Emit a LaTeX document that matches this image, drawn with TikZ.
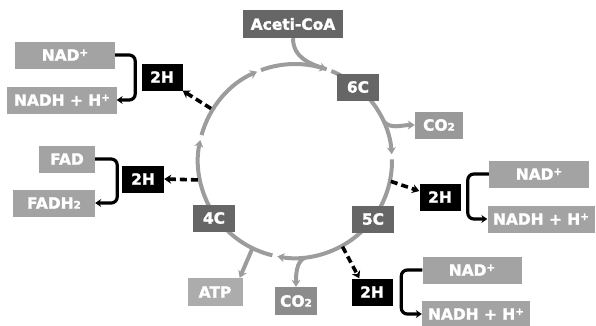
\documentclass[tikz,border=0pt]{standalone}
\usepackage{fontspec}
\setmainfont{DejaVu Sans}[BoldFeatures={FakeBold=1.6}]
\usetikzlibrary{arrows.meta,calc}
\definecolor{dk}{HTML}{666666}
\definecolor{lt}{HTML}{A3A3A3}
\definecolor{md}{HTML}{999999}
\definecolor{mdb}{HTML}{8C8C8C}
\definecolor{cyc}{HTML}{9C9C9C}
\newcommand{\sub}[1]{{\fontsize{10.5}{10}\selectfont #1}}
\newcommand{\supp}[1]{\raisebox{4.5bp}{\fontsize{10.5}{10}\selectfont #1}}
\tikzset{
  box/.style={minimum height=27bp, inner sep=0pt, text=white,
    font=\bfseries\fontsize{15.5}{18}\selectfont},
  dkbox/.style={box, fill=dk},
  ltbox/.style={box, fill=lt},
  hbox/.style={box, fill=black, minimum width=41bp},
  cycline/.style={draw=cyc, line width=4bp},
  cycarr/.style={cycline, -{Stealth[length=7bp,width=9bp]}},
  hdash/.style={draw=black, line width=3.6bp, dash pattern=on 7bp off 4bp,
    -{Stealth[length=7bp,width=9bp]}},
  brk/.style={draw=black, line width=3.2bp, rounded corners=6bp,
    -{Stealth[length=6bp,width=8bp]}}
}
\begin{document}
\begin{tikzpicture}[x=1bp,y=-1bp]
\useasboundingbox (0,0) rectangle (596,325);
\coordinate (O) at (295,161);
% cycle arcs
\draw[cycarr] ($(O)+(150:97)$) arc[start angle=150, end angle=192.5, radius=97];
\draw[cycarr] ($(O)+(195.5:97)$) arc[start angle=195.5, end angle=247, radius=97];
\draw[cycline] ($(O)+(249.5:97)$) arc[start angle=249.5, end angle=289, radius=97];
\draw[cycline] ($(O)+(292:97)$) arc[start angle=292, end angle=312, radius=97];
\draw[cycarr] ($(O)+(310:97)$) arc[start angle=310, end angle=356, radius=97];
\draw[cycarr] ($(O)+(359:97)$) arc[start angle=359, end angle=460.5, radius=97];
\draw[cycline] ($(O)+(103.5:97)$) arc[start angle=103.5, end angle=146, radius=97];
\coordinate (J) at ($(O)+(289:97)$);
\coordinate (B6) at ($(O)+(336:97)$);
\coordinate (Bco) at ($(O)+(84:97)$);
\coordinate (Batp) at ($(O)+(116:97)$);
\coordinate (Dtl) at ($(O)+(212:99)$);
\coordinate (Dl) at ($(O)+(169:99)$);
\coordinate (Dr) at ($(O)+(12:98)$);
\coordinate (Db) at ($(O)+(61:98)$);
% nodes
\node[dkbox, minimum width=100bp, minimum height=28bp] (aceti) at (293,24) {Aceti-CoA};
\node[dkbox, minimum width=42bp] (c6) at (358,87) {6C};
\node[box, fill=md, minimum width=48bp] (co2a) at (439,125) {CO\sub{2}};
\node[dkbox, minimum width=42bp] (c5) at (373,219) {5C};
\node[dkbox, minimum width=42bp] (c4) at (214,218) {4C};
\node[ltbox, fill=lt!90!white, minimum width=55bp, minimum height=28bp] (atp) at (215,292) {ATP};
\node[box, fill=mdb, minimum width=42bp, minimum height=28bp] (co2b) at (296,301) {CO\sub{2}};
\node[hbox] (h2b) at (372,292) {2H};
\node[hbox] (h2r) at (440,197) {2H};
\node[ltbox, minimum width=100bp] (nadr) at (539,174) {NAD\supp{+}};
\node[ltbox, minimum width=107bp] (nadhr) at (541,219) {NADH + H\supp{+}};
\node[ltbox, minimum width=99bp] (nadb) at (472,270) {NAD\supp{+}};
\node[ltbox, minimum width=108bp] (nadhb) at (476,314) {NADH + H\supp{+}};
\node[hbox] (h2tl) at (162,77) {2H};
\node[ltbox, minimum width=100bp] (nadtl) at (65,55) {NAD\supp{+}};
\node[ltbox, minimum width=109bp] (nadhtl) at (62,100) {NADH + H\supp{+}};
\node[ltbox, minimum width=56bp] (fad) at (67,159) {FAD};
\node[ltbox, minimum width=82bp] (fadh) at (54,203) {FADH\sub{2}};
\node[hbox, minimum width=42bp] (h2l) at (143,179) {2H};
% branches
\draw[cycarr] (aceti.south) .. controls +(0,20) and +(-15,-5) .. (J);
\draw[cycarr] (B6) .. controls +(8,8) and +(-14,0) .. (co2a.west);
\draw[cycarr] (Bco) .. controls +(-9,4) and +(0,-12) .. (co2b.north);
\draw[cycarr] (Batp) -- ($(atp.north east)+(-3,0)$);
% dashed H transfers
\draw[hdash] (Dtl) -- (h2tl.south east);
\draw[hdash] (Dl) -- (h2l.east);
\draw[hdash] (Dr) -- ($(h2r.west)+(0,-6)$);
\draw[hdash] (Db) -- ($(h2b.north west)+(8,0)$);
% brackets
\draw[brk] (nadtl.east) -- ++(20,0) |- (nadhtl.east);
\draw[brk] (fad.east) -- ++(22,0) |- (fadh.east);
\draw[brk] (nadr.west) -- ++(-21,0) |- (nadhr.west);
\draw[brk] (nadb.west) -- ++(-21,0) |- (nadhb.west);
\end{tikzpicture}
\end{document}
